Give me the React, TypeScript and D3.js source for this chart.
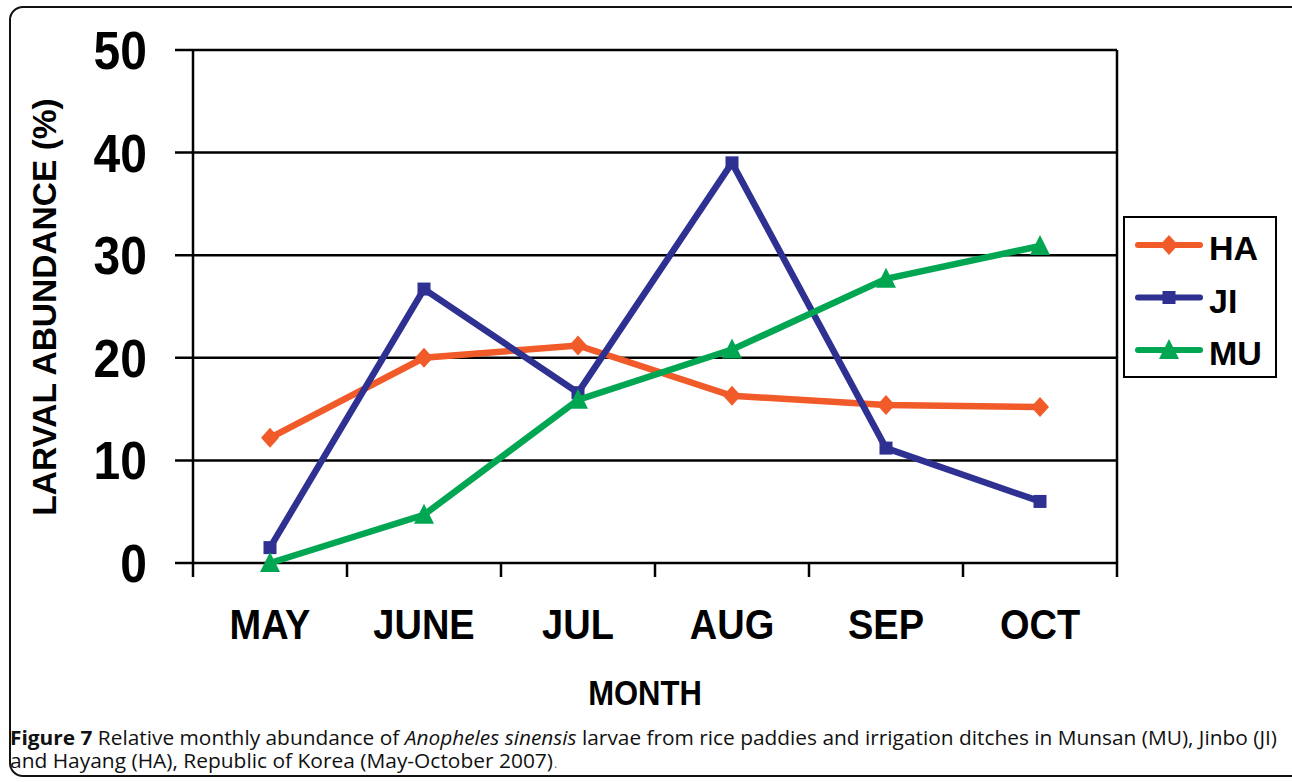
import React from 'react'
import * as d3 from 'd3'

const months = ['MAY', 'JUNE', 'JUL', 'AUG', 'SEP', 'OCT']
const haValues = [12.2, 20.0, 21.2, 16.3, 15.4, 15.2]
const jiValues = [1.5, 26.7, 16.6, 39.0, 11.2, 6.0]
const muValues = [0, 4.7, 15.9, 20.8, 27.7, 30.9]
const yTicks = [0, 10, 20, 30, 40, 50]

const seriesNames = ['HA', 'JI', 'MU']
const seriesColors = ['#F15A29', '#2E3192', '#00A651']
const seriesShapes = ['diamond', 'square', 'triangle']

const W = 1292
const H = 782
const left = 193
const right = 1117
const top = 50
const bottom = 563

function Marker({ shape, x, y, color }: { shape: string; x: number; y: number; color: string }) {
  if (shape === 'diamond') {
    return <path d={`M${x},${y - 10}L${x + 9},${y}L${x},${y + 10}L${x - 9},${y}Z`} fill={color} />
  }
  if (shape === 'square') {
    return <rect x={x - 6.5} y={y - 6.5} width={13} height={13} fill={color} />
  }
  return <path d={`M${x},${y - 11}L${x + 10},${y + 9}L${x - 10},${y + 9}Z`} fill={color} />
}

export default function App() {
  const x = d3.scaleBand().domain(months).range([left, right])
  const y = d3.scaleLinear().domain([0, 50]).range([bottom, top])
  const allSeries = [haValues, jiValues, muValues]

  const line = d3.line<number>()
    .x((_, i) => x(months[i])! + x.bandwidth() / 2)
    .y((d) => y(d))

  const tickXs = months.map((m) => x(m)!).concat([right])
  const capFont = "'Liberation Sans Narrow', 'Open Sans', sans-serif"

  return (
    <svg width={W} height={H} style={{ position: 'absolute', left: 0, top: 0 }}
      fontFamily="'Liberation Sans', Arial, sans-serif">
      <rect x={0} y={0} width={W} height={H} fill="#fff" />
      {/* frame */}
      <rect x={10} y={7} width={1300} height={769} rx={13} fill="none" stroke="#111" strokeWidth={2} />

      {/* gridlines */}
      {yTicks.map((t) => (
        <line key={t} x1={175} x2={right} y1={y(t)} y2={y(t)} stroke="#000" strokeWidth={2.5} />
      ))}
      <line x1={left} x2={left} y1={top} y2={bottom} stroke="#000" strokeWidth={2.5} />
      <line x1={right} x2={right} y1={top} y2={bottom} stroke="#000" strokeWidth={2.5} />
      {tickXs.map((tx, i) => (
        <line key={i} x1={tx} x2={tx} y1={bottom} y2={bottom + 14} stroke="#000" strokeWidth={2.5} />
      ))}

      {/* y tick labels */}
      {yTicks.map((t) => (
        <text key={t} transform={`translate(147,${y(t) + 19}) scale(1,1.1)`} textAnchor="end"
          fontSize={48} fontWeight="bold">{t}</text>
      ))}

      {/* x tick labels */}
      {months.map((m) => (
        <text key={m} transform={`translate(${x(m)! + x.bandwidth() / 2},639) scale(1,1.1)`}
          textAnchor="middle" fontSize={38} fontWeight="bold">{m}</text>
      ))}

      <text transform="translate(645,705) scale(1,1.13)" textAnchor="middle" fontSize={31} fontWeight="bold">MONTH</text>
      <text transform="translate(56,307) rotate(-90)" textAnchor="middle" fontSize={33.5} fontWeight="bold">LARVAL ABUNDANCE (%)</text>

      {/* series */}
      {allSeries.map((vals, si) => (
        <g key={si}>
          <path d={line(vals)!} fill="none" stroke={seriesColors[si]} strokeWidth={6.5} />
          {vals.map((v, i) => (
            <Marker key={i} shape={seriesShapes[si]} x={x(months[i])! + x.bandwidth() / 2} y={y(v)} color={seriesColors[si]} />
          ))}
        </g>
      ))}

      {/* legend */}
      <rect x={1124} y={217} width={152} height={160} fill="#fff" stroke="#000" strokeWidth={2} />
      {seriesNames.map((n, i) => {
        const ly = 245 + i * 52.5
        return (
          <g key={n}>
            <line x1={1138} x2={1200} y1={ly} y2={ly} stroke={seriesColors[i]} strokeWidth={6} strokeLinecap="round" />
            <Marker shape={seriesShapes[i]} x={1169} y={ly} color={seriesColors[i]} />
            <text x={1209} y={ly + 15} fontSize={34} fontWeight="bold">{n}</text>
          </g>
        )
      })}

      {/* caption */}
      <text x={10} y={745} fontSize={20} fontFamily={capFont} fill="#111"
        textLength={1267} lengthAdjust="spacingAndGlyphs">
        <tspan fontWeight="bold">Figure 7</tspan> Relative monthly abundance of <tspan fontStyle="italic">Anopheles sinensis</tspan> larvae from rice paddies and irrigation ditches in Munsan (MU), Jinbo (JI)
      </text>
      <text x={10} y={768} fontSize={20} fontFamily={capFont} fill="#111"
        textLength={543} lengthAdjust="spacingAndGlyphs">
        and Hayang (HA), Republic of Korea (May-October 2007)
      </text>
      <text x={554} y={768} fontSize={12} fontFamily={capFont} fill="#666">.</text>
    </svg>
  )
}
